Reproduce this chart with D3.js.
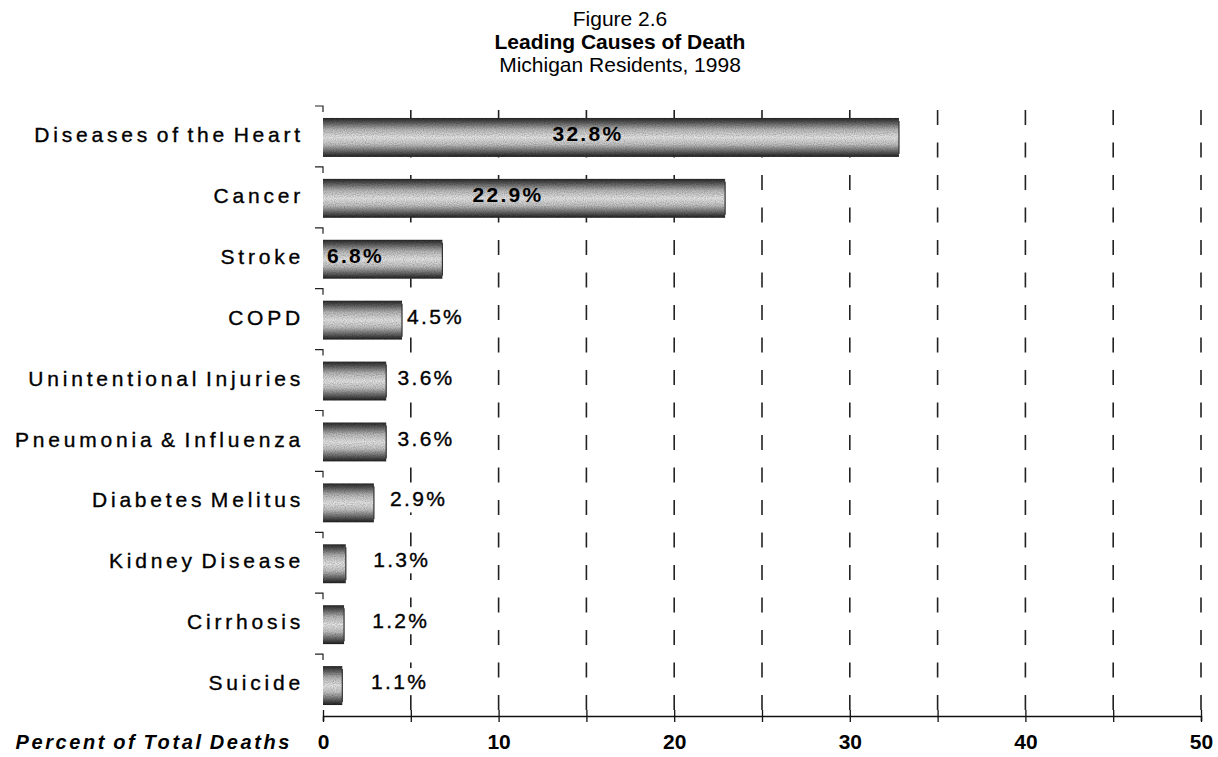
<!DOCTYPE html>
<html>
<head>
<meta charset="utf-8">
<script src="https://cdn.jsdelivr.net/npm/d3@7"></script>
<style>
  html, body { margin: 0; padding: 0; background: #fff; }
  svg { display: block; font-family: "Liberation Sans", Arial, sans-serif; }
</style>
</head>
<body>
<div id="chart"></div>
<script>
const causes = ['Diseases of the Heart', 'Cancer', 'Stroke', 'COPD', 'Unintentional Injuries',
  'Pneumonia & Influenza', 'Diabetes Melitus', 'Kidney Disease', 'Cirrhosis', 'Suicide'];
const percents = [32.8, 22.9, 6.8, 4.5, 3.6, 3.6, 2.9, 1.3, 1.2, 1.1];
const xTicks = [0, 10, 20, 30, 40, 50];
const gridSteps = [5, 10, 15, 20, 25, 30, 35, 40, 45, 50];
const titleLines = ['Figure 2.6', 'Leading Causes of Death', 'Michigan Residents, 1998'];
const xTitle = 'Percent of Total Deaths';

const width = 1218;
const height = 757;
const plotLeft = 323;
const plotRight = 1201;
const plotTop = 107;
const axisY = 716;

const data = causes.map((c, i) => ({ cause: c, value: percents[i] }));

const svg = d3.select('#chart').append('svg')
  .attr('width', width)
  .attr('height', height)
  .attr('viewBox', `0 0 ${width} ${height}`);

svg.append('rect').attr('width', width).attr('height', height).attr('fill', '#fff');

// cylinder-ish grey fill with grain, like the scanned Excel bars
const defs = svg.append('defs');
const grad = defs.append('linearGradient')
  .attr('id', 'barFill')
  .attr('x1', 0).attr('y1', 0).attr('x2', 0).attr('y2', 1);
[[0, '#262626'], [0.12, '#5c5c5c'], [0.3, '#b8b8b8'], [0.5, '#e6e6e6'],
  [0.68, '#c2c2c2'], [0.86, '#666666'], [1, '#1e1e1e']]
  .forEach(([o, c]) => grad.append('stop').attr('offset', o).attr('stop-color', c));

const grain = defs.append('filter').attr('id', 'grain')
  .attr('x', 0).attr('y', 0).attr('width', 1).attr('height', 1);
grain.append('feTurbulence')
  .attr('type', 'fractalNoise').attr('baseFrequency', 0.9)
  .attr('numOctaves', 1).attr('seed', 3).attr('result', 'noise');
grain.append('feColorMatrix')
  .attr('in', 'noise').attr('type', 'matrix')
  .attr('values', '0 0 0 0 0.5  0 0 0 0 0.5  0 0 0 0 0.5  0 0 0 1.8 -0.6')
  .attr('result', 'speck');
grain.append('feComposite')
  .attr('in', 'speck').attr('in2', 'SourceGraphic').attr('operator', 'in').attr('result', 'speckIn');
grain.append('feBlend')
  .attr('in', 'speckIn').attr('in2', 'SourceGraphic').attr('mode', 'multiply');

const x = d3.scaleLinear()
  .domain([0, 50])
  .range([plotLeft, plotRight]);

const y = d3.scaleBand()
  .domain(causes)
  .range([plotTop, axisY])
  .paddingInner(0.36)
  .paddingOuter(0.18);

// title
svg.append('g')
  .selectAll('text')
  .data(titleLines)
  .join('text')
  .attr('x', 620)
  .attr('y', (d, i) => [26, 49, 72][i])
  .attr('text-anchor', 'middle')
  .attr('font-size', 21)
  .attr('font-weight', (d, i) => (i === 1 ? 'bold' : 'normal'))
  .attr('fill', '#000')
  .text(d => d);

// dashed gridlines
svg.append('g')
  .selectAll('line')
  .data(gridSteps)
  .join('line')
  .attr('x1', d => x(d)).attr('x2', d => x(d))
  .attr('y1', plotTop).attr('y2', axisY)
  .attr('stroke', '#222')
  .attr('stroke-width', 1.6)
  .attr('stroke-dasharray', '15,17.5')
  .attr('stroke-dashoffset', 29.5);

// bars
svg.append('g')
  .selectAll('rect')
  .data(data)
  .join('rect')
  .attr('x', x(0))
  .attr('y', d => y(d.cause))
  .attr('width', d => x(d.value) - x(0))
  .attr('height', y.bandwidth())
  .attr('fill', 'url(#barFill)')
  .attr('filter', 'url(#grain)');

svg.append('g')
  .selectAll('line')
  .data(data)
  .join('line')
  .attr('x1', d => x(d.value)).attr('x2', d => x(d.value))
  .attr('y1', d => y(d.cause) + 3)
  .attr('y2', d => y(d.cause) + y.bandwidth() - 3)
  .attr('stroke', '#333')
  .attr('stroke-width', 1.2);

// category ticks on the left side
const step = y.step();
svg.append('g')
  .selectAll('path')
  .data(causes)
  .join('path')
  .attr('d', d => {
    const b = y(d) - step * y.paddingInner() / 2 - 1;
    return `M${plotLeft - 8},${b}H${plotLeft}V${b + 6}`;
  })
  .attr('fill', 'none')
  .attr('stroke', '#222')
  .attr('stroke-width', 1.2);

// category labels
svg.append('g')
  .selectAll('text')
  .data(data)
  .join('text')
  .attr('x', 304)
  .attr('y', d => y(d.cause) + y.bandwidth() / 2 - 3)
  .attr('dy', '0.36em')
  .attr('text-anchor', 'end')
  .attr('font-size', 21)
  .attr('letter-spacing', 3.8)
  .attr('word-spacing', -4)
  .attr('fill', '#000')
  .attr('stroke', '#000')
  .attr('stroke-width', 0.35)
  .text(d => d.cause);

// value labels, inside the long bars, beside the short ones
const inside = v => v > 5;
const labelX = v => {
  if (v >= 10) return x(v * 0.46);
  if (inside(v)) return x(0) + 4;
  return x(v) + 5 + (4.5 - v) * 7;
};
const valueG = svg.append('g');
const valueText = valueG.selectAll('text')
  .data(data)
  .join('text')
  .attr('x', d => labelX(d.value))
  .attr('y', d => y(d.cause) + y.bandwidth() / 2 - 4)
  .attr('dy', '0.36em')
  .attr('text-anchor', d => (d.value >= 10 ? 'middle' : 'start'))
  .attr('font-size', 21)
  .attr('letter-spacing', 2.3)
  .attr('font-weight', d => (inside(d.value) ? 'bold' : 'normal'))
  .attr('fill', '#000')
  .attr('stroke', '#000')
  .attr('stroke-width', d => (inside(d.value) ? 0 : 0.35))
  .text(d => d.value.toFixed(1) + '%');

// outside labels sit on a white box, so the gridlines stop at them
valueText.filter(d => !inside(d.value)).each(function () {
  const b = this.getBBox();
  valueG.insert('rect', 'text')
    .attr('x', b.x - 3).attr('y', b.y - 2)
    .attr('width', b.width + 4).attr('height', b.height + 4)
    .attr('fill', '#fff');
});

// x axis
const xAxis = svg.append('g')
  .attr('transform', `translate(0,${axisY})`)
  .call(d3.axisBottom(x)
    .tickValues([0].concat(gridSteps))
    .tickSize(5)
    .tickFormat(d => (xTicks.includes(d) ? d : '')));

xAxis.select('.domain').attr('stroke', '#111').attr('stroke-width', 1.5);
xAxis.selectAll('.tick line')
  .attr('y1', -6).attr('y2', 6)
  .attr('stroke', '#111').attr('stroke-width', 1.3);
xAxis.selectAll('.tick text')
  .attr('y', 33)
  .attr('dy', 0)
  .attr('font-family', '"Liberation Sans", Arial, sans-serif')
  .attr('font-size', 21)
  .attr('font-weight', 'bold')
  .attr('fill', '#000');

svg.append('text')
  .attr('x', 292)
  .attr('y', axisY + 33)
  .attr('text-anchor', 'end')
  .attr('font-size', 20)
  .attr('font-weight', 'bold')
  .attr('font-style', 'italic')
  .attr('letter-spacing', 2.6)
  .attr('word-spacing', -2)
  .attr('fill', '#000')
  .text(xTitle);
</script>
</body>
</html>
